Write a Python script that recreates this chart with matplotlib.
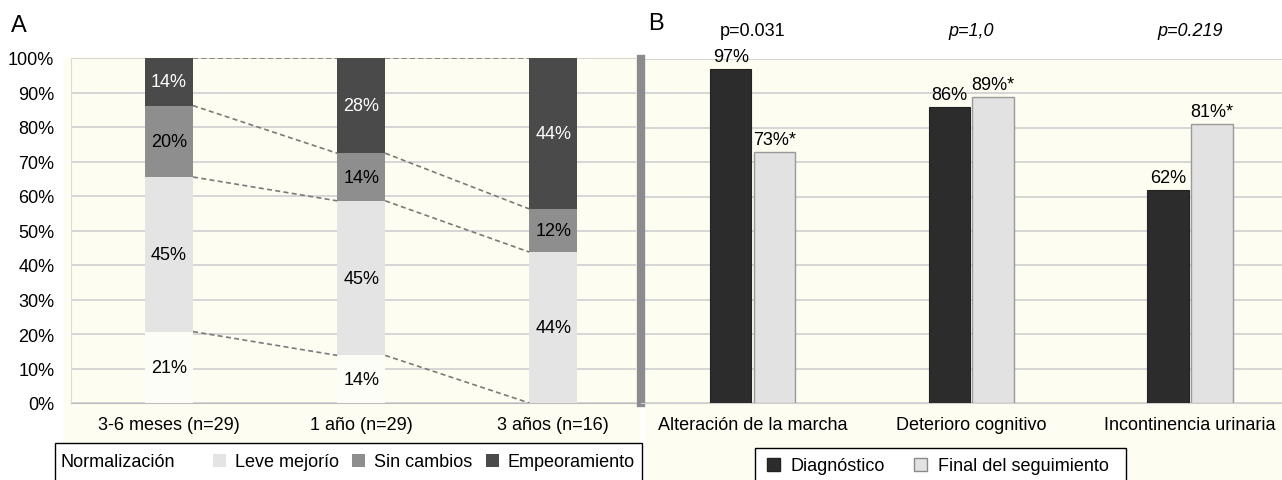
import matplotlib.pyplot as plt
import numpy as np
from matplotlib.patches import Patch, Rectangle
from matplotlib.transforms import blended_transform_factory

plt.rcParams["font.family"] = ["Liberation Sans", "DejaVu Sans"]
plt.rcParams["font.size"] = 13

W, H = 1282, 481

# panel A: evolution after treatment (percent of patients)
periods = ["3-6 meses (n=29)", "1 año (n=29)", "3 años (n=16)"]
normalizacion = [20.7, 13.8, 0.0]
leve_mejoria = [44.8, 44.8, 43.75]
sin_cambios = [20.7, 13.8, 12.5]
empeoramiento = [13.8, 27.6, 43.75]
lab_norm = ["21%", "14%", ""]
lab_leve = ["45%", "45%", "44%"]
lab_sin = ["20%", "14%", "12%"]
lab_emp = ["14%", "28%", "44%"]

# panel B: symptoms at diagnosis vs end of follow-up
symptoms = ["Alteración de la marcha", "Deterioro cognitivo", "Incontinencia urinaria"]
diagnostico = [97, 86, 62]
final = [73, 89, 81]
lab_diag = ["97%", "86%", "62%"]
lab_final = ["73%*", "89%*", "81%*"]
p_values = ["p=0.031", "p=1,0", "p=0.219"]
p_italic = [False, True, True]

CREAM = "#FDFDF1"
GRID = "#D2D2D2"
c_norm = "#FDFDF7"
c_leve = "#E4E4E4"
c_sin = "#8E8E8E"
c_emp = "#4A4A4A"
c_diag = "#2C2C2C"
c_final = "#E2E2E2"


def box(x0, y0, x1, y1):
    # pixel box (top-left origin) -> figure fraction [l, b, w, h]
    return [x0 / W, 1 - y1 / H, (x1 - x0) / W, (y1 - y0) / H]


def fig_rect(x0, y0, x1, y1, **kw):
    l, b, w, h = box(x0, y0, x1, y1)
    fig.add_artist(Rectangle((l, b), w, h, transform=fig.transFigure, **kw))


fig = plt.figure(figsize=(W / 100, H / 100), dpi=100)

# cream backgrounds that run under the tick labels
fig_rect(63, 58, 640, 446, facecolor=CREAM, edgecolor="none", zorder=-5)
fig_rect(645, 60, 1282, 481, facecolor=CREAM, edgecolor="none", zorder=-5)

# ---------------- panel A ----------------
ax_a = fig.add_axes(box(71, 59, 636, 404))
ax_a.set_facecolor(CREAM)
x = np.arange(len(periods))
bw = 0.25
stacks = [
    (normalizacion, c_norm, lab_norm, "black"),
    (leve_mejoria, c_leve, lab_leve, "black"),
    (sin_cambios, c_sin, lab_sin, "black"),
    (empeoramiento, c_emp, lab_emp, "white"),
]
bottom = np.zeros(len(periods))
bounds = []
for vals, col, labs, tcol in stacks:
    bars = ax_a.bar(x, vals, bw, bottom=bottom, color=col, zorder=3)
    ax_a.bar_label(bars, labels=labs, label_type="center", color=tcol, fontsize=13)
    bottom = bottom + np.array(vals)
    bounds.append(bottom.copy())
bounds[-1] = np.full(len(periods), 100.0)

for b in bounds:
    for i in range(len(periods) - 1):
        ax_a.plot([x[i] + bw / 2, x[i + 1] - bw / 2], [b[i], b[i + 1]],
                  color="#7A7A7A", lw=1.2, ls=(0, (3, 2)), zorder=4)

ax_a.set_xlim(-0.51, 2.43)
ax_a.set_ylim(0, 100)
ax_a.set_yticks(np.arange(0, 101, 10))
ax_a.set_yticklabels([f"{v}%" for v in range(0, 101, 10)])
ax_a.set_xticks(x)
ax_a.set_xticklabels(periods)
ax_a.tick_params(axis="y", length=0, pad=12)
ax_a.tick_params(axis="x", length=0, pad=9)
ax_a.grid(axis="y", color=GRID, lw=1.3, zorder=0)
ax_a.set_axisbelow(True)
for s in ["top", "right"]:
    ax_a.spines[s].set_visible(False)
ax_a.spines["left"].set_color("#DADADA")
ax_a.spines["bottom"].set_color("#BDBDBD")

# ---------------- panel B ----------------
ax_b = fig.add_axes(box(641, 60, 1282, 404))
ax_b.set_facecolor(CREAM)
xb = np.arange(len(symptoms))
w2 = 0.19
b1 = ax_b.bar(xb - 0.1, diagnostico, w2, color=c_diag, edgecolor="#222222", lw=0.8, zorder=3)
b2 = ax_b.bar(xb + 0.1, final, w2, color=c_final, edgecolor="#9A9A9A", lw=1.0, zorder=3)
ax_b.bar_label(b1, labels=lab_diag, padding=3, fontsize=13)
ax_b.bar_label(b2, labels=lab_final, padding=3, fontsize=13)

tr = blended_transform_factory(ax_b.transData, ax_b.transAxes)
for i, (p, it) in enumerate(zip(p_values, p_italic)):
    ax_b.text(xb[i], 1.082, p, transform=tr, ha="center", va="center",
              style="italic" if it else "normal", fontsize=13)

ax_b.set_xlim(-0.51, 2.42)
ax_b.set_ylim(0, 100)
ax_b.set_yticks(np.arange(0, 101, 10))
ax_b.set_yticklabels([])
ax_b.set_xticks(xb)
ax_b.set_xticklabels(symptoms)
ax_b.tick_params(axis="y", length=0)
ax_b.tick_params(axis="x", length=0, pad=9)
ax_b.grid(axis="y", color=GRID, lw=1.3, zorder=0)
ax_b.set_axisbelow(True)
for s in ["top", "right"]:
    ax_b.spines[s].set_visible(False)
ax_b.spines["left"].set_color("#8C8C8C")
ax_b.spines["left"].set_linewidth(6)
ax_b.spines["bottom"].set_color("#D0D0D0")

# panel letters
fig.text(11 / W, 1 - 26 / H, "A", fontsize=17, va="center", ha="left")
fig.text(648 / W, 1 - 24 / H, "B", fontsize=17, va="center", ha="left")

# legends: frames run off the bottom edge like in the original
fig_rect(55, 444, 642, 495, facecolor="white", edgecolor="black", lw=1.0, zorder=1)
fig.text(60 / W, 1 - 463 / H, "Normalización", fontsize=13, va="center", ha="left", zorder=2)
h_a = [Patch(facecolor=c_leve), Patch(facecolor=c_sin), Patch(facecolor=c_emp)]
leg_a = fig.legend(h_a, ["Leve mejorío", "Sin cambios", "Empeoramiento"],
                   loc="center left", bbox_to_anchor=(213 / W, 1 - 463 / H, 422 / W, 0),
                   mode="expand", ncol=3, borderaxespad=0, borderpad=0, frameon=False,
                   handlelength=0.7, handleheight=0.7, handletextpad=0.5,
                   columnspacing=0.8, fontsize=13)

fig_rect(755, 449, 1126, 495, facecolor="white", edgecolor="black", lw=1.0, zorder=1)
h_b = [Patch(facecolor=c_diag, edgecolor="#222222"),
       Patch(facecolor=c_final, edgecolor="#8A8A8A")]
leg_b = fig.legend(h_b, ["Diagnóstico", "Final del seguimiento"],
                   loc="center", bbox_to_anchor=(938 / W, 1 - 467 / H),
                   ncol=2, borderaxespad=0, borderpad=0, frameon=False,
                   handlelength=0.7, handleheight=0.7, handletextpad=0.6,
                   columnspacing=1.6, fontsize=13)

fig.savefig("out.png", dpi=100)
